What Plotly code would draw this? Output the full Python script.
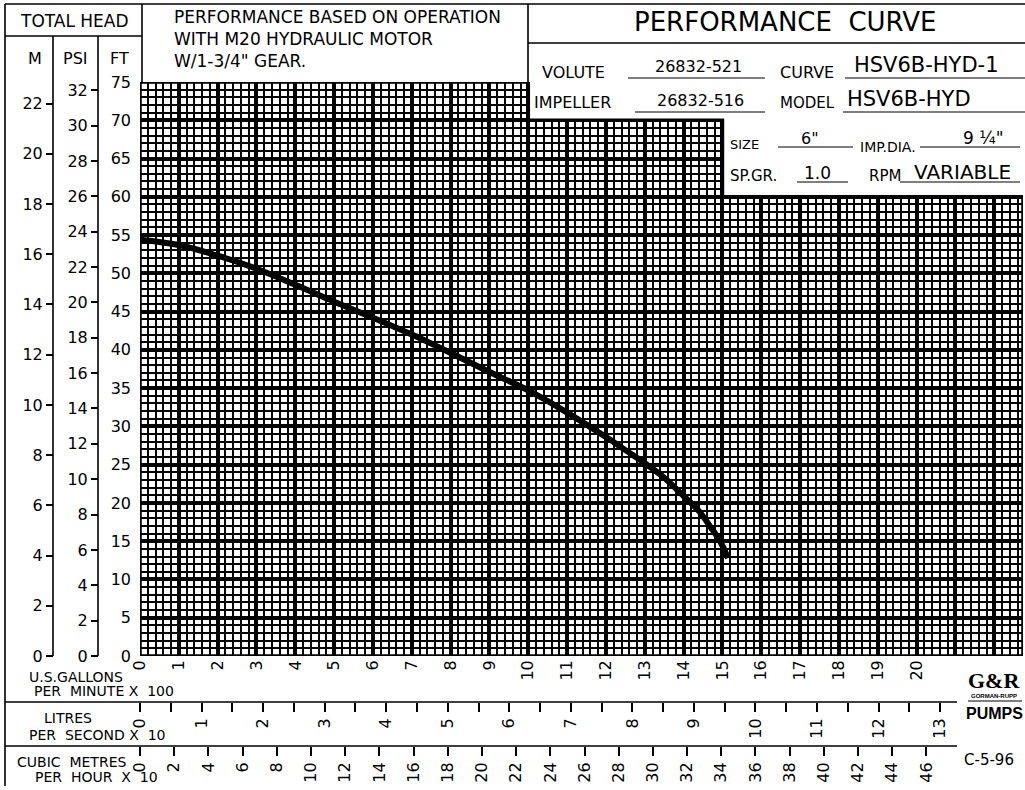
import plotly.graph_objects as go

W, H = 1025, 790

# ---------------- data ----------------
gpm_x100 = [0, 1, 2, 3, 4, 5, 6, 7, 8, 9, 10, 11, 12, 12.5, 13, 13.5, 14, 14.4, 14.7, 14.95, 15.14]
head_ft = [54.4, 53.7, 52.3, 50.6, 48.5, 46.3, 44.2, 42.0, 39.6, 37.1, 34.7, 31.8, 28.6, 26.9,
           25.2, 23.3, 20.9, 18.9, 16.8, 14.9, 12.8]

ft_ticks = [0, 5, 10, 15, 20, 25, 30, 35, 40, 45, 50, 55, 60, 65, 70, 75]
psi_ticks = [0, 2, 4, 6, 8, 10, 12, 14, 16, 18, 20, 22, 24, 26, 28, 30, 32]
m_ticks = [0, 2, 4, 6, 8, 10, 12, 14, 16, 18, 20, 22]
gpm_ticks = [0, 1, 2, 3, 4, 5, 6, 7, 8, 9, 10, 11, 12, 13, 14, 15, 16, 17, 18, 19, 20, 21, 22]
gpm_text = ["0", "1", "2", "3", "4", "5", "6", "7", "8", "9", "10", "11", "12", "13", "14",
            "15", "16", "17", "18", "19", "20", "", ""]
lps_ticks = [0, 0.5, 1, 1.5, 2, 2.5, 3, 3.5, 4, 4.5, 5, 5.5, 6, 6.5, 7, 7.5, 8, 8.5, 9, 9.5,
             10, 10.5, 11, 11.5, 12, 12.5, 13]
lps_text = ["0", "", "1", "", "2", "", "3", "", "4", "", "5", "", "6", "", "7", "", "8", "",
            "9", "", "10", "", "11", "", "12", "", "13"]
m3h_ticks = [0, 2, 4, 6, 8, 10, 12, 14, 16, 18, 20, 22, 24, 26, 28, 30, 32, 34, 36, 38, 40,
             42, 44, 46]

FT_PER_M = 3.2808
FT_PER_PSI = 2.31
UNITS_PER_LPS10 = 1.585     # 10 L/s in hundreds of US GPM
UNITS_PER_M3H10 = 0.4403    # 10 m3/h in hundreds of US GPM
X_MAX = 22.74
Y_MAX = 75

FONT = "DejaVu Sans"


def px(x):
    return x / W


def py(y):
    return 1 - y / H


fig = go.Figure()
fig.add_trace(go.Scatter(
    x=gpm_x100, y=head_ft, mode="lines", line=dict(color="black", width=6, shape="spline"),
    hoverinfo="skip", showlegend=False))

# the same curve expressed in the secondary units (transparent) so the extra scales render
head_psi = [h / FT_PER_PSI for h in head_ft]
head_m = [h / FT_PER_M for h in head_ft]
flow_lps10 = [g / UNITS_PER_LPS10 for g in gpm_x100]
flow_m3h10 = [g / UNITS_PER_M3H10 for g in gpm_x100]
for xs, ys, xa, ya in [(gpm_x100, head_psi, "x", "y2"), (gpm_x100, head_m, "x", "y3"),
                       (flow_lps10, head_ft, "x2", "y"), (flow_m3h10, head_ft, "x3", "y")]:
    fig.add_trace(go.Scatter(x=xs, y=ys, xaxis=xa, yaxis=ya, mode="lines",
                             line=dict(color="rgba(0,0,0,0)", width=0),
                             hoverinfo="skip", showlegend=False))

tickfont = dict(family=FONT, size=16, color="black")

fig.update_layout(
    width=W, height=H, margin=dict(l=0, r=0, t=0, b=0, autoexpand=False),
    paper_bgcolor="white", plot_bgcolor="white", showlegend=False,
    xaxis=dict(domain=[px(140), px(1023)], range=[0, X_MAX], tickmode="array",
               tickvals=gpm_ticks, ticktext=gpm_text, tickangle=-90, ticks="",
               tickfont=tickfont, showgrid=True, gridcolor="black", gridwidth=4,
               zeroline=False, showline=False, fixedrange=True, automargin=False,
               minor=dict(tickmode="linear", tick0=0, dtick=0.2, showgrid=True,
                          gridcolor="black", gridwidth=2.3, ticks="")),
    yaxis=dict(domain=[py(656), py(82)], range=[0, Y_MAX], tickmode="array",
               tickvals=ft_ticks, ticks="", ticklabelstandoff=8, tickfont=tickfont,
               showgrid=True, gridcolor="black", gridwidth=4, zeroline=False,
               showline=False, fixedrange=True, automargin=False,
               minor=dict(tickmode="linear", tick0=0, dtick=1, showgrid=True,
                          gridcolor="black", gridwidth=2.3, ticks="")),
    yaxis2=dict(overlaying="y", anchor="free", position=px(98), side="left",
                range=[0, Y_MAX / FT_PER_PSI], tickmode="array", tickvals=psi_ticks,
                ticks="outside", ticklen=7, tickwidth=1.5, tickcolor="black",
                tickfont=tickfont, showgrid=False, zeroline=False, showline=False,
                automargin=False, fixedrange=True),
    yaxis3=dict(overlaying="y", anchor="free", position=px(53), side="left",
                range=[0, Y_MAX / FT_PER_M], tickmode="array", tickvals=m_ticks,
                ticks="outside", ticklen=7, tickwidth=1.5, tickcolor="black",
                tickfont=tickfont, showgrid=False, zeroline=False, showline=False,
                automargin=False, fixedrange=True),
    xaxis2=dict(overlaying="x", anchor="free", position=py(702), side="bottom",
                range=[0, X_MAX / UNITS_PER_LPS10], tickmode="array", tickvals=lps_ticks,
                ticktext=lps_text, tickangle=-90, ticks="outside", ticklen=9, tickwidth=1.5,
                tickcolor="black", tickfont=tickfont, showgrid=False, zeroline=False,
                showline=False, automargin=False, fixedrange=True),
    xaxis3=dict(overlaying="x", anchor="free", position=py(746), side="bottom",
                range=[0, X_MAX / UNITS_PER_M3H10], tickmode="array", tickvals=m3h_ticks,
                tickangle=-90, ticks="outside", ticklen=9, tickwidth=1.5,
                tickcolor="black", tickfont=tickfont, showgrid=False, zeroline=False,
                showline=False, automargin=False, fixedrange=True),
)

shapes = []
# white cover for the title block region inside the plotting area
shapes.append(dict(type="path", xref="x", yref="y", layer="above",
                   path=f"M 10,{Y_MAX + 2} L 10,70 L 15,70 L 15,60 L {X_MAX + 1},60 L {X_MAX + 1},{Y_MAX + 2} Z",
                   fillcolor="white", line=dict(width=0)))
# heavy border around the grid (stepped top)
shapes.append(dict(type="path", xref="x", yref="y", layer="above",
                   path=f"M 0,0 L 0,{Y_MAX} L 10,{Y_MAX} L 10,70 L 15,70 L 15,60 L {X_MAX},60 L {X_MAX},0 Z",
                   line=dict(color="black", width=3.5)))


def pline(x0, y0, x1, y1, w=1.6):
    shapes.append(dict(type="line", xref="paper", yref="paper", layer="above",
                       x0=px(x0), y0=py(y0), x1=px(x1), y1=py(y1),
                       line=dict(color="black", width=w)))


pline(5, 4, 1025, 4)          # top border
pline(5, 4, 5, 786)           # left border
pline(5, 36, 142, 36)         # under TOTAL HEAD
pline(142, 4, 142, 82)        # right of TOTAL HEAD box
pline(53, 36, 53, 656)        # M column line
pline(98, 36, 98, 656)        # PSI column line
pline(528, 4, 528, 82)        # title block left
pline(528, 43, 1025, 43)      # under PERFORMANCE CURVE
pline(5, 702, 957, 702)       # litres scale line
pline(5, 746, 957, 746)       # cubic metres scale line
# underlines in title block
pline(628, 78, 765, 78, 1.2)
pline(845, 78, 1025, 78, 1.2)
pline(635, 112, 765, 112, 1.2)
pline(843, 112, 1025, 112, 1.2)
pline(778, 147, 853, 147, 1.2)
pline(920, 147, 1020, 147, 1.2)
pline(797, 182, 848, 182, 1.2)
pline(900, 182, 1020, 182, 1.2)
pline(968, 701, 1022, 701, 1.2)

fig.update_layout(shapes=shapes)

annotations = []


def txt(t, x, y, size=14, anchor="center", bold=False, family=FONT):
    annotations.append(dict(text=f"<b>{t}</b>" if bold else t, xref="paper", yref="paper",
                            x=px(x), y=py(y), xanchor=anchor, yanchor="middle",
                            showarrow=False, font=dict(family=family, size=size, color="black")))


txt("TOTAL HEAD", 74, 21, 17)
txt("M", 35, 59, 16)
txt("PSI", 75, 59, 16)
txt("FT", 119, 59, 16)

txt("PERFORMANCE BASED ON OPERATION", 172, 17, 17, "left")
txt("WITH M20 HYDRAULIC MOTOR", 172, 39, 17, "left")
txt("W/1-3/4\" GEAR.", 172, 61, 17, "left")

txt("PERFORMANCE  CURVE", 785, 22, 26)
txt("VOLUTE", 540, 72, 16, "left")
txt("26832-521", 698, 66, 16)
txt("CURVE", 778, 72, 16, "left")
txt("HSV6B-HYD-1", 926, 65, 21)
txt("IMPELLER", 532, 102, 16, "left")
txt("26832-516", 700, 100, 16)
txt("MODEL", 778, 103, 15, "left")
txt("HSV6B-HYD", 909, 99, 21)
txt("SIZE", 728, 145, 13, "left")
txt("6\"", 810, 138, 16)
txt("IMP.DIA.", 858, 147, 14, "left")
txt("9 \u00bc\"", 983, 138, 17)
txt("SP.GR.", 728, 176, 15, "left")
txt("1.0", 817, 173, 17)
txt("RPM", 867, 176, 15, "left")
txt("VARIABLE", 962, 172, 20)

txt("U.S.GALLONS", 27, 677, 14, "left")
txt("PER  MINUTE X  100", 32, 691, 14, "left")
txt("LITRES", 68, 718, 14)
txt("PER  SECOND X  10", 27, 735, 14, "left")
txt("CUBIC  METRES", 15, 762, 14, "left")
txt("PER  HOUR  X  10", 33, 777, 14, "left")
txt("C-5-96", 962, 760, 15, "left")

txt("G&R", 994, 680, 22, bold=True, family="Liberation Serif")
txt("GORMAN-RUPP", 994, 696, 6, bold=True, family="Liberation Sans")
txt("PUMPS", 994, 713, 16, bold=True, family="Liberation Sans")

fig.update_layout(annotations=annotations)

fig.write_html("out.html", config={"displayModeBar": False},
               post_script="document.body.style.margin='0px';document.body.style.overflow='hidden';")
